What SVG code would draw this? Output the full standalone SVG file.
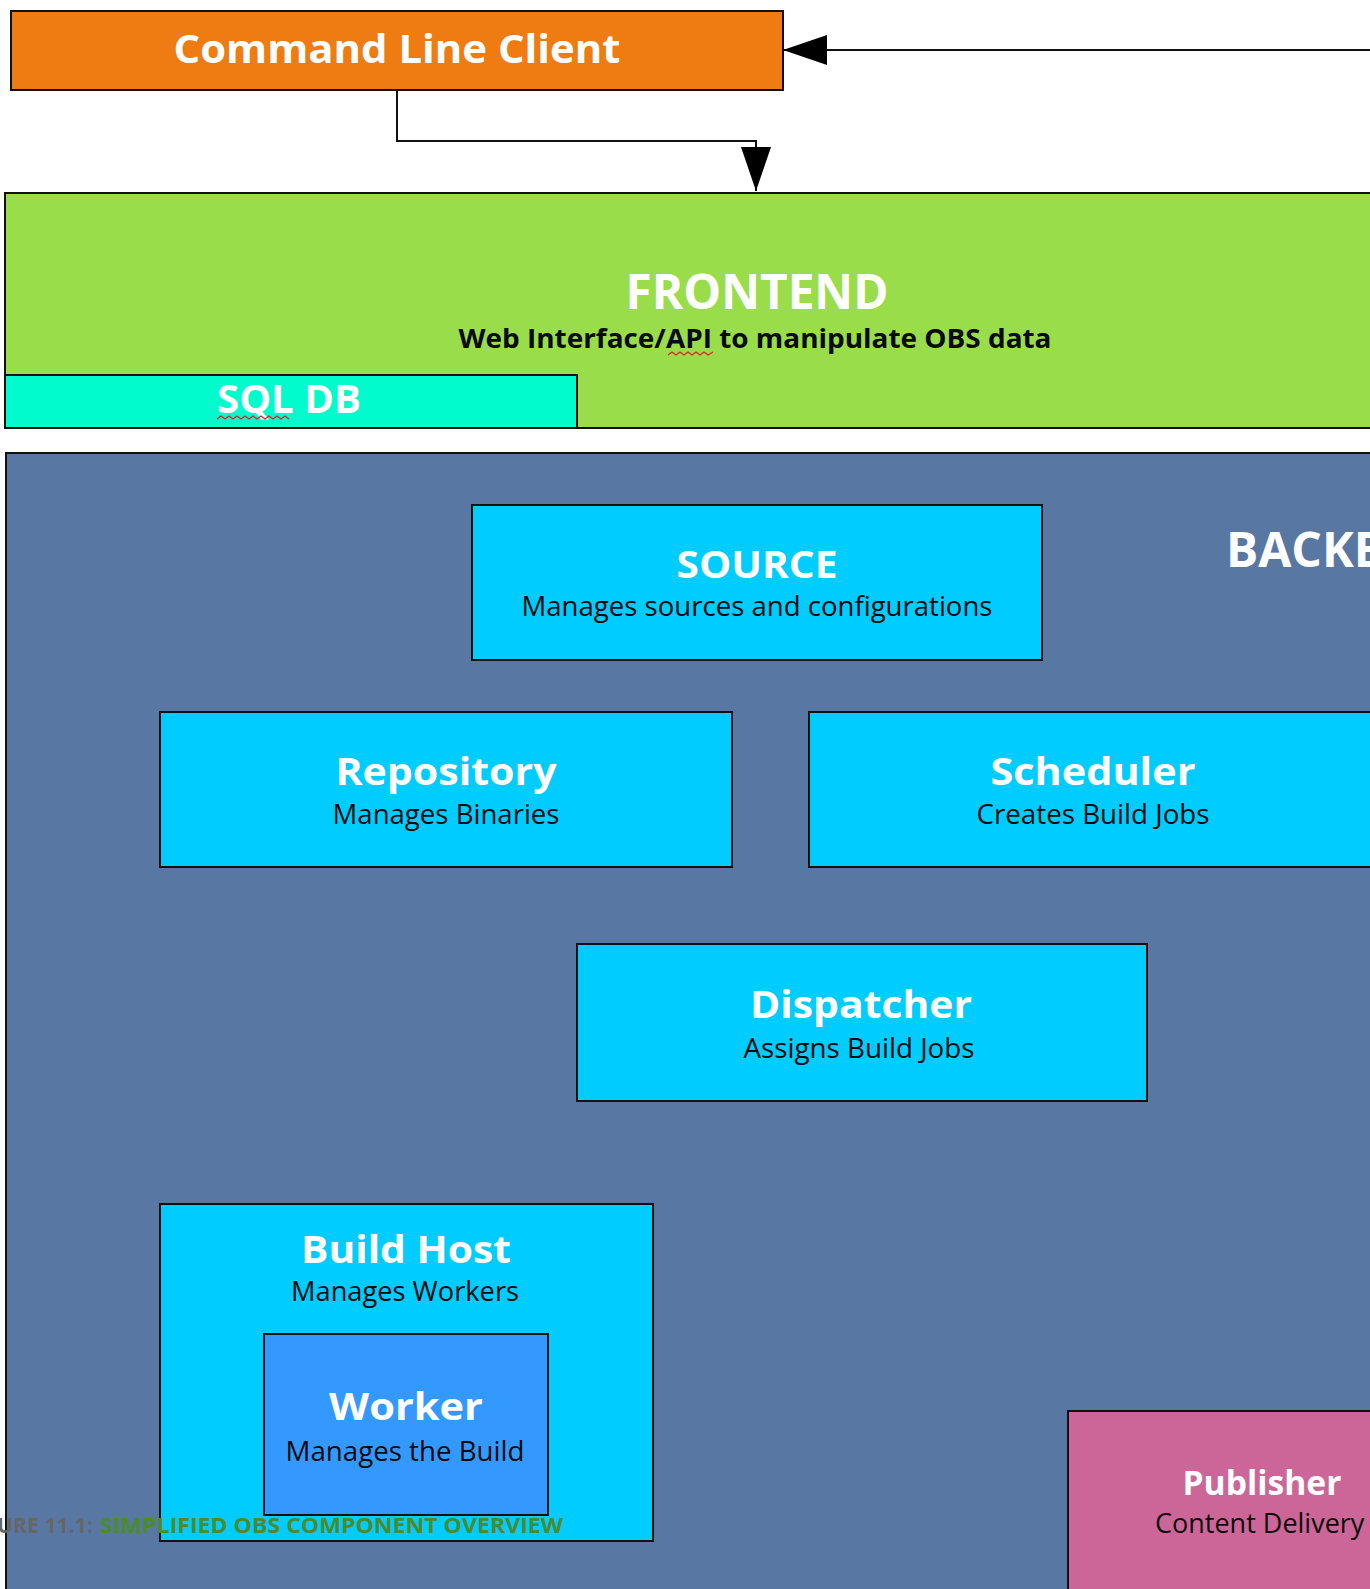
<svg xmlns="http://www.w3.org/2000/svg" width="1370" height="1589" viewBox="0 0 1370 1589">
  <style>
    .box { stroke: #111; stroke-width: 2; }
    .title { font-family: "Open Sans", "DejaVu Sans", sans-serif; font-weight: bold; fill: #ffffff; text-anchor: middle; }
    .sub { font-family: "Open Sans", "DejaVu Sans", sans-serif; fill: #0a0a0a; text-anchor: middle; font-size: 27px; }
    .conn { fill: none; stroke: #111; stroke-width: 2; }
    .squiggle { fill: none; stroke: #e8201c; stroke-width: 1.3; }
    .cap { font-family: "Open Sans", "DejaVu Sans", sans-serif; font-weight: bold; font-size: 21px; }
  </style>
  <defs>
    <marker id="arrow" markerUnits="userSpaceOnUse" markerWidth="44" markerHeight="30" refX="44" refY="15" orient="auto">
      <path d="M0,0 L44,15 L0,30 z" fill="#000"/>
    </marker>
  </defs>
  <rect x="0" y="0" width="1370" height="1589" fill="#ffffff"/>

  <g id="cli">
    <rect class="box" x="11" y="11" width="772" height="79" fill="#ef7b13"/>
    <text class="title" x="397" y="63" font-size="40" textLength="447" lengthAdjust="spacingAndGlyphs">Command Line Client</text>
  </g>

  <g id="frontend">
    <rect class="box" x="5" y="193" width="1400" height="235" fill="#99dd4b"/>
    <text class="title" x="757" y="309" font-size="48" textLength="263" lengthAdjust="spacingAndGlyphs">FRONTEND</text>
    <text class="sub" x="755" y="348" font-weight="bold" textLength="593" lengthAdjust="spacingAndGlyphs">Web Interface/API to manipulate OBS data</text>
    <path class="squiggle" d="M668,355 l4,-3 l4,3 l4,-3 l4,3 l4,-3 l4,3 l4,-3 l4,3 l4,-3 l4,3 l5,-3"/>
  </g>

  <g id="sqldb">
    <rect class="box" x="5" y="375" width="572" height="53" fill="#00fccc"/>
    <text class="title" x="289" y="413" font-size="40" textLength="144" lengthAdjust="spacingAndGlyphs">SQL DB</text>
    <path class="squiggle" d="M217,419 l4,-3 l4,3 l4,-3 l4,3 l4,-3 l4,3 l4,-3 l4,3 l4,-3 l4,3 l4,-3 l4,3 l4,-3 l4,3 l4,-3 l4,3 l4,-3 l4,3"/>
  </g>

  <g id="backend">
    <rect class="box" x="6" y="453" width="1400" height="1160" fill="#5878a3"/>
    <text class="title" x="1226" y="567" font-size="48" style="text-anchor:start">BACKEND</text>
  </g>

  <g id="source">
    <rect class="box" x="472" y="505" width="570" height="155" fill="#00ccff"/>
    <text class="title" x="757" y="578" font-size="38" textLength="161" lengthAdjust="spacingAndGlyphs">SOURCE</text>
    <text class="sub" x="757" y="616" textLength="471" lengthAdjust="spacingAndGlyphs">Manages sources and configurations</text>
  </g>

  <g id="repository">
    <rect class="box" x="160" y="712" width="572" height="155" fill="#00ccff"/>
    <text class="title" x="446" y="785" font-size="38" textLength="221" lengthAdjust="spacingAndGlyphs">Repository</text>
    <text class="sub" x="446" y="824" textLength="227" lengthAdjust="spacingAndGlyphs">Manages Binaries</text>
  </g>

  <g id="scheduler">
    <rect class="box" x="809" y="712" width="600" height="155" fill="#00ccff"/>
    <text class="title" x="1093" y="785" font-size="38" textLength="205" lengthAdjust="spacingAndGlyphs">Scheduler</text>
    <text class="sub" x="1093" y="824" textLength="233" lengthAdjust="spacingAndGlyphs">Creates Build Jobs</text>
  </g>

  <g id="dispatcher">
    <rect class="box" x="577" y="944" width="570" height="157" fill="#00ccff"/>
    <text class="title" x="861" y="1018" font-size="38" textLength="222" lengthAdjust="spacingAndGlyphs">Dispatcher</text>
    <text class="sub" x="859" y="1058" textLength="231" lengthAdjust="spacingAndGlyphs">Assigns Build Jobs</text>
  </g>

  <g id="buildhost">
    <rect class="box" x="160" y="1204" width="493" height="337" fill="#00ccff"/>
    <text class="title" x="406" y="1263" font-size="38" textLength="210" lengthAdjust="spacingAndGlyphs">Build Host</text>
    <text class="sub" x="405" y="1301" textLength="228" lengthAdjust="spacingAndGlyphs">Manages Workers</text>
  </g>

  <g id="worker">
    <rect class="box" x="264" y="1334" width="284" height="181" fill="#3399ff"/>
    <text class="title" x="406" y="1420" font-size="38" textLength="154" lengthAdjust="spacingAndGlyphs">Worker</text>
    <text class="sub" x="405" y="1461" textLength="239" lengthAdjust="spacingAndGlyphs">Manages the Build</text>
  </g>

  <g id="publisher">
    <rect class="box" x="1068" y="1411" width="400" height="200" fill="#cc6699"/>
    <text class="title" x="1262" y="1495" font-size="34" textLength="159" lengthAdjust="spacingAndGlyphs">Publisher</text>
    <text class="sub" x="1155" y="1533" style="text-anchor:start">Content Delivery</text>
  </g>

  <g id="connectors">
    <path class="conn" d="M1372,50 H783" marker-end="url(#arrow)"/>
    <path class="conn" d="M397,91 V141 H756 V191" marker-end="url(#arrow)"/>
  </g>

  <g id="caption">
    <text class="cap" x="-3" y="1533" fill="#666666" textLength="96" lengthAdjust="spacingAndGlyphs">URE 11.1:</text>
    <text class="cap" x="100" y="1533" fill="#4a8b2c" textLength="463" lengthAdjust="spacingAndGlyphs">SIMPLIFIED OBS COMPONENT OVERVIEW</text>
  </g>
</svg>
